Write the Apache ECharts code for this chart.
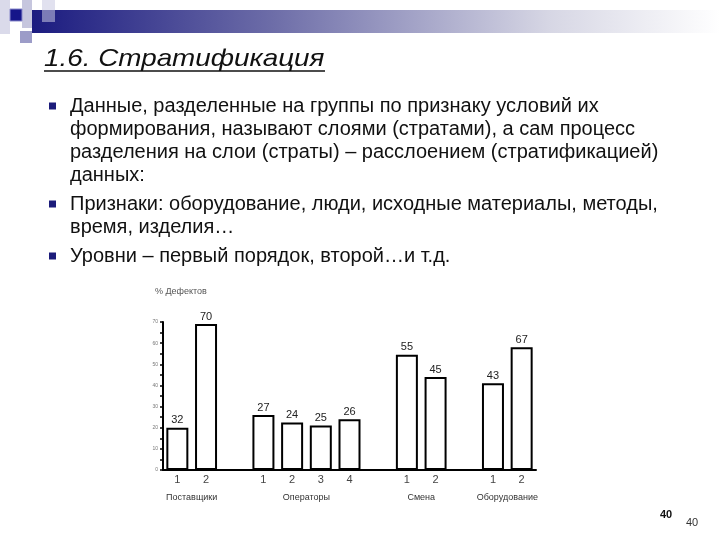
<!DOCTYPE html>
<html><head><meta charset="utf-8">
<script src="https://cdn.jsdelivr.net/npm/echarts@6/dist/echarts.min.js"></script>
<style>html,body{margin:0;padding:0;background:#fff}#c{width:720px;height:540px}</style>
</head><body><div id="c"></div>
<script>
// ---- data ----
const categories = ['1', '2', '', '1', '2', '3', '4', '', '1', '2', '', '1', '2'];
const barValues  = [20, 69, null, 26, 22.5, 21, 24, null, 54.5, 44, null, 41, 58];
const barLabels  = ['32', '70', '', '27', '24', '25', '26', '', '55', '45', '', '43', '67'];
const groupNames = ['Поставщики', 'Операторы', 'Смена', 'Оборудование'];
const groupRanges = [[0, 1], [3, 6], [8, 9], [11, 12]];
const yTicks = [0, 10, 20, 30, 40, 50, 60, 70];
const title = '1.6. Стратификация';
const bullets = [
  ['Данные, разделенные на группы по признаку условий их',
   'формирования, называют слоями (стратами), а сам процесс',
   'разделения на слои (страты) – расслоением (стратификацией)',
   'данных:'],
  ['Признаки: оборудование, люди, исходные материалы, методы,',
   'время, изделия…'],
  ['Уровни – первый порядок, второй…и т.д.']
];
const yAxisName = '% Дефектов';
const pageNum = '40';

// ---- chart ----
const chart = echarts.init(document.getElementById('c'), null, {renderer: 'canvas'});
const bodyFont = '"Liberation Sans", Arial, sans-serif';

function decor() {
  const g = [];
  g.push({type: 'rect', shape: {x: 32, y: 10, width: 688, height: 23},
    style: {fill: new echarts.graphic.LinearGradient(0, 0, 1, 0, [
      {offset: 0, color: '#1b1b80'}, {offset: 0.35, color: '#6d6da8'},
      {offset: 0.75, color: '#d6d6e4'}, {offset: 1, color: '#ffffff'}])}});
  g.push({type: 'rect', shape: {x: 0, y: 0, width: 10, height: 34}, style: {fill: '#dadaea'}});
  g.push({type: 'rect', shape: {x: 22, y: 0, width: 10, height: 28}, style: {fill: '#c6c6de'}});
  g.push({type: 'rect', shape: {x: 42, y: 0, width: 13, height: 22}, style: {fill: 'rgba(200,200,225,0.55)'}});
  g.push({type: 'rect', shape: {x: 10, y: 9, width: 12, height: 12}, style: {fill: '#16168a', stroke: '#8a8acc', lineWidth: 1}});
  g.push({type: 'rect', shape: {x: 20, y: 31, width: 12, height: 12}, style: {fill: '#9c9cc8'}});
  // title
  g.push({type: 'text', x: 44, y: 47, scaleX: 1.16,
    style: {text: title, font: 'italic 24px "Liberation Sans", Arial, sans-serif', fill: '#111'}});
  g.push({type: 'line', shape: {x1: 44, y1: 71, x2: 325, y2: 71}, style: {stroke: '#111', lineWidth: 1.5}});
  // bullets
  const starts = [96, 194, 246];
  const lh = 23;
  bullets.forEach((lines, i) => {
    const y0 = starts[i];
    g.push({type: 'rect', shape: {x: 49, y: y0 + 6.5, width: 7, height: 7}, style: {fill: '#1b1b7a'}});
    lines.forEach((t, j) => {
      g.push({type: 'text', x: 70, y: y0 + j * lh, style: {text: t, font: '20px ' + bodyFont, fill: '#111'}});
    });
  });
  // page numbers
  g.push({type: 'text', x: 660, y: 509, style: {text: pageNum, font: 'bold 11px "Liberation Sans", Arial, sans-serif', fill: '#111'}});
  g.push({type: 'text', x: 686, y: 517, style: {text: pageNum, font: '11px "Liberation Sans", Arial, sans-serif', fill: '#333'}});
  // y axis name
  g.push({type: 'text', x: 155, y: 287, style: {text: yAxisName, font: '9px "Liberation Sans", Arial, sans-serif', fill: '#555'}});
  return g;
}

chart.setOption({
  animation: false,
  backgroundColor: '#fff',
  grid: {left: 163, right: 184, top: 322, bottom: 70},
  xAxis: {
    type: 'category', data: categories, boundaryGap: true,
    axisLine: {lineStyle: {color: '#000', width: 2}},
    axisTick: {show: false},
    axisLabel: {color: '#444', fontSize: 11, margin: 4, fontFamily: 'Liberation Sans',
      formatter: (v, i) => categories[i]}
  },
  yAxis: {
    type: 'value', min: 0, max: 70, interval: 10,
    axisLine: {show: true, lineStyle: {color: '#000', width: 2}},
    axisTick: {show: true, length: 3, lineStyle: {color: '#000', width: 1.5}},
    minorTick: {show: true, splitNumber: 2, length: 3, lineStyle: {color: '#000', width: 1.5}},
    splitLine: {show: false},
    axisLabel: {color: '#777', fontSize: 5, margin: 5, formatter: v => yTicks.includes(v) ? String(v) : ''}
  },
  series: [{
    type: 'bar', data: barValues, barWidth: 22,
    itemStyle: {color: '#fff', borderColor: '#000', borderWidth: 2},
    label: {show: true, position: 'top', distance: 2, color: '#222', fontSize: 11,
      fontFamily: 'Liberation Sans', formatter: p => barLabels[p.dataIndex]}
  }],
  graphic: decor()
});

// group labels placed under category groups using the axis scale
const extra = groupNames.map((name, i) => {
  const a = chart.convertToPixel({xAxisIndex: 0}, groupRanges[i][0]);
  const b = chart.convertToPixel({xAxisIndex: 0}, groupRanges[i][1]);
  return {type: 'text', x: (a + b) / 2, y: 493,
    style: {text: name, font: '9px "Liberation Sans", Arial, sans-serif', fill: '#333', textAlign: 'center'}};
});
chart.setOption({graphic: decor().concat(extra)});
</script></body></html>
